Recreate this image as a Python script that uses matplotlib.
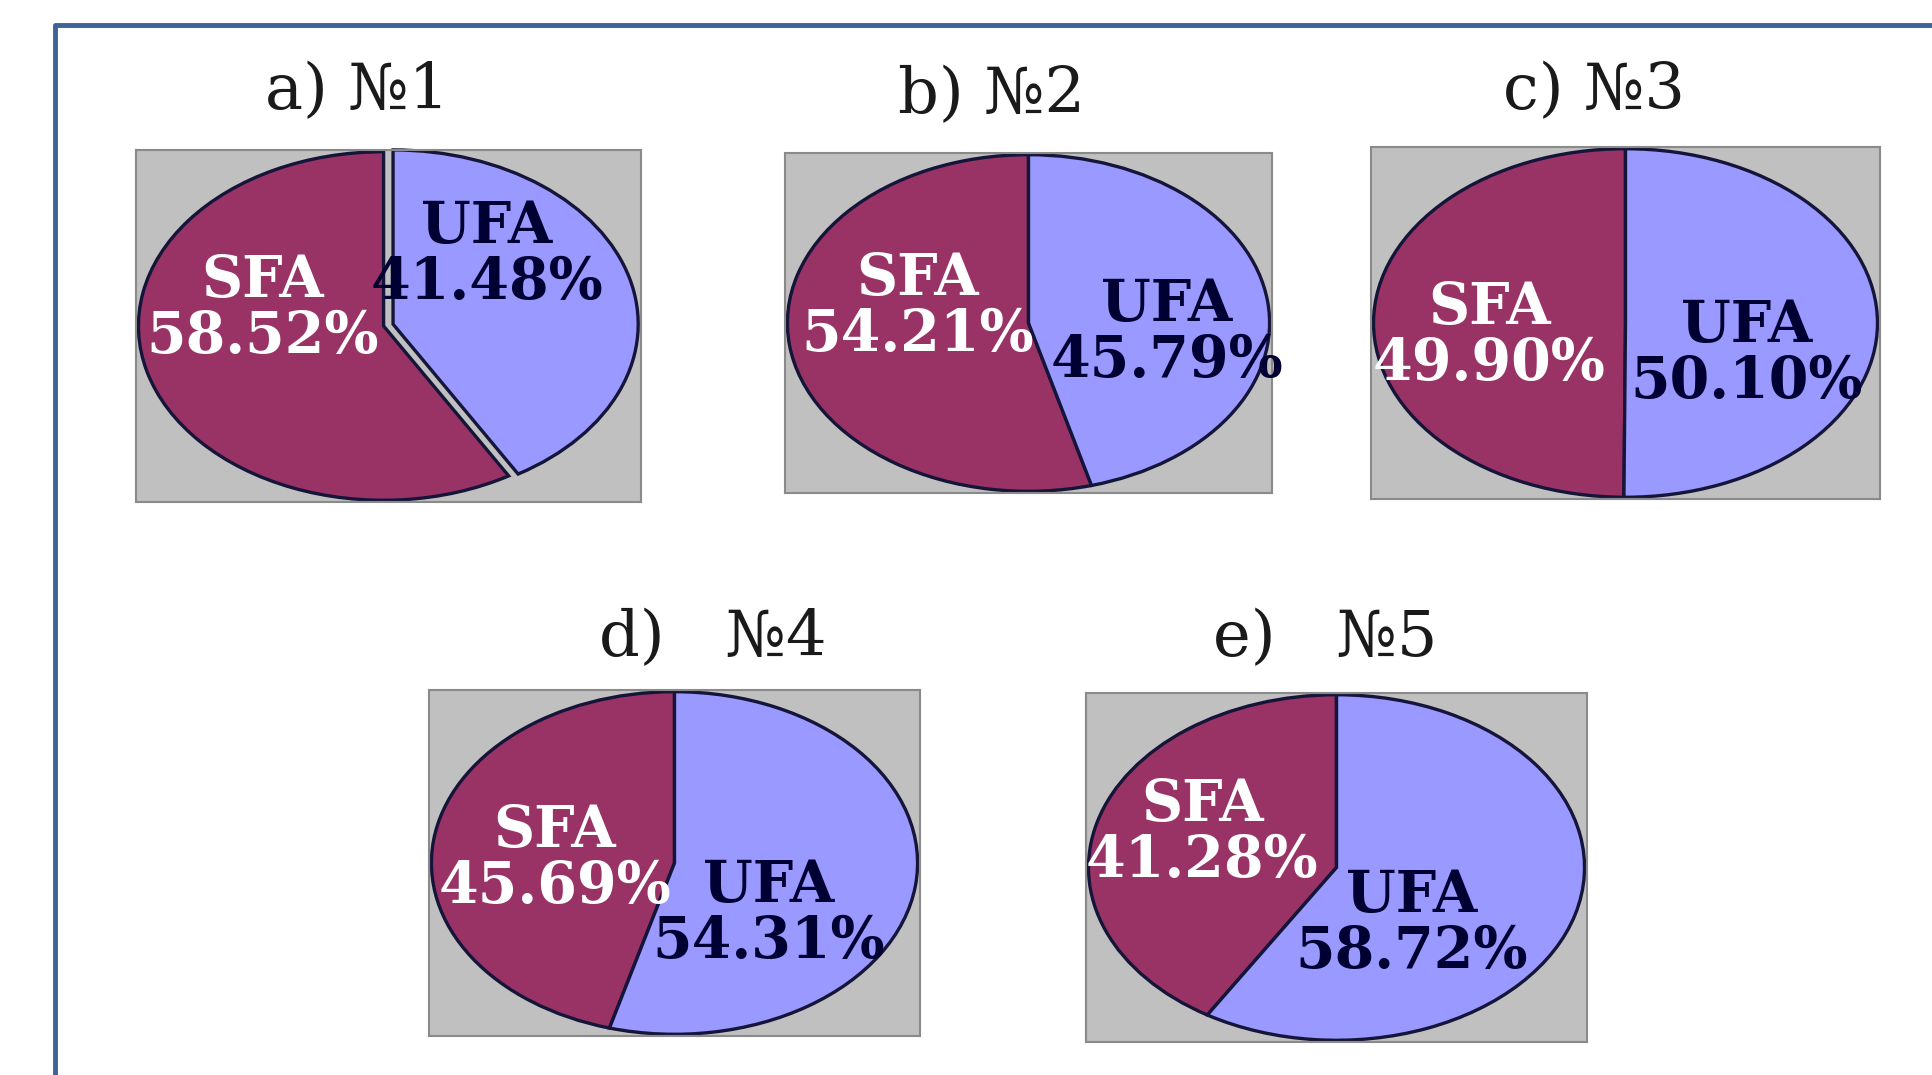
import matplotlib.pyplot as plt
from matplotlib.lines import Line2D

# data
titles = ["a) №1", "b) №2", "c) №3", "d)   №4", "e)   №5"]
categories = ["SFA", "UFA"]
sfa = [58.52, 54.21, 49.90, 45.69, 41.28]
ufa = [41.48, 45.79, 50.10, 54.31, 58.72]
explode_ufa = [0.04, 0, 0, 0, 0]

# layout (pixels of a 1933x1075 canvas): left, top, right, bottom
W, H = 1933, 1075
boxes = [(136, 150, 641, 502), (785, 153, 1272, 493), (1371, 147, 1880, 499),
         (429, 690, 920, 1036), (1086, 693, 1587, 1042)]
title_xy = [(357, 92), (992, 96), (1594, 92), (713, 639), (1325, 639)]
# label centres in axes fraction (SFA, UFA)
sfa_xy = [(0.251, 0.548), (0.273, 0.547), (0.232, 0.464), (0.256, 0.512), (0.232, 0.600)]
ufa_xy = [(0.695, 0.703), (0.784, 0.470), (0.737, 0.411), (0.692, 0.354), (0.650, 0.339)]

sfa_color = "#993366"
ufa_color = "#9999FF"
edge_color = "#15153A"

fig = plt.figure(figsize=(W / 100, H / 100), dpi=100)
fig.patch.set_facecolor("white")

# blue frame round the figure (open at right and bottom)
fig.add_artist(Line2D([55 / W, 55 / W, 1], [0, 1 - 25 / H, 1 - 25 / H],
                      transform=fig.transFigure, color="#3C6497", lw=3.5))

for i in range(5):
    l, t, r, b = boxes[i]
    ax = fig.add_axes([l / W, 1 - b / H, (r - l) / W, (b - t) / H])
    ax.set_facecolor("#C0C0C0")
    for s in ax.spines.values():
        s.set_color("#8A8A8A")
        s.set_linewidth(1.5)
    ax.set_xticks([])
    ax.set_yticks([])
    ax.pie([sfa[i], ufa[i]], colors=[sfa_color, ufa_color], startangle=90,
           explode=[0, explode_ufa[i]], radius=1.0,
           wedgeprops=dict(edgecolor=edge_color, linewidth=2.4))
    ax.set_aspect("auto")
    ax.set_xlim(-1.01, 1.01 + explode_ufa[i])
    ax.set_ylim(-1.01, 1.01)
    ax.set_frame_on(True)

    ax.text(sfa_xy[i][0], sfa_xy[i][1], f"{categories[0]}\n{sfa[i]:.2f}%",
            transform=ax.transAxes, ha="center", va="center", ma="center",
            fontsize=41, fontweight="bold", family="DejaVu Serif",
            color="white", linespacing=1.0)
    ax.text(ufa_xy[i][0], ufa_xy[i][1], f"{categories[1]}\n{ufa[i]:.2f}%",
            transform=ax.transAxes, ha="center", va="center", ma="center",
            fontsize=41, fontweight="bold", family="DejaVu Serif",
            color="#000033", linespacing=1.0)

    fig.text(title_xy[i][0] / W, 1 - title_xy[i][1] / H, titles[i],
             ha="center", va="center", fontsize=46, family="DejaVu Serif",
             color="#1A1A1A")

fig.savefig("out.png", dpi=100)
